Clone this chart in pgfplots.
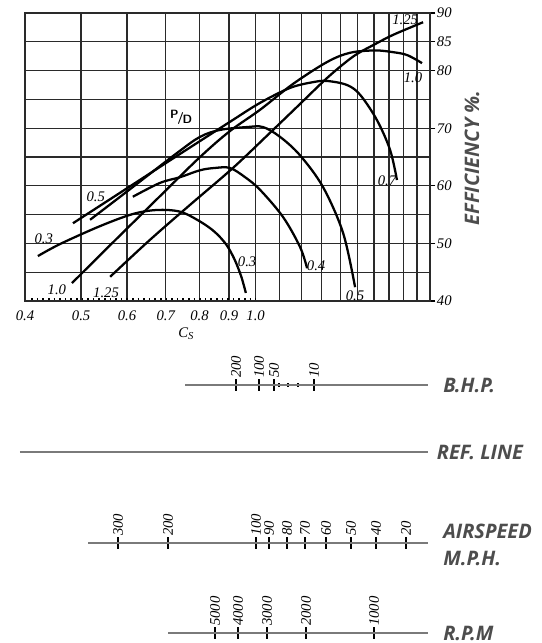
\documentclass[border=0pt]{standalone}
\usepackage{fontspec}
\setmainfont{Liberation Serif}
\newfontfamily\capfont{Open Sans}
\usepackage{pgfplots}
\pgfplotsset{compat=1.18}
\definecolor{capgray}{HTML}{4D4D4D}
\definecolor{gridc}{HTML}{2A2A2A}
\definecolor{scalec}{HTML}{7A7A7A}

% 1px of the reference = 0.75pt
\newcommand\lab{\itshape\fontsize{11}{12}\selectfont}
\newcommand\captxt{\capfont\bfseries\itshape\fontsize{15}{15}\selectfont}

\pgfplotsset{
  nomo/.style={
    anchor=north west, scale only axis, height=1pt,
    ymin=0, ymax=1, hide y axis, axis x line*=top,
    axis line style={scalec, line width=1pt},
    tick align=center, major tick length=8.5pt, minor tick length=3pt,
    every tick/.style={black, line width=1pt},
    xticklabel style={rotate=90, anchor=west, font=\lab, inner sep=1pt},
  },
  pd/.style={black, line width=1.7pt, smooth, tension=0.55},
}

\begin{document}
\begin{tikzpicture}
\useasboundingbox (0,0) rectangle (406.5pt,-482.25pt);

% efficiency chart
\begin{axis}[
  at={(18.75pt,-225.75pt)}, anchor=south west,
  scale only axis, width=303.75pt, height=216pt,
  xmode=log, xmin=0.4, xmax=2.0, ymin=40, ymax=90,
  clip=false,
  axis line style={gridc, line width=1pt},
  grid=major, major grid style={gridc, line width=1pt},
  xtick={0.4,0.5,0.6,0.7,0.8,0.9,1.0,1.1,1.2,1.3,1.4,1.5,1.6,1.7,1.8,1.9,2.0},
  xticklabels={0.4,0.5,0.6,0.7,0.8,0.9,1.0,,,,,,,,,,},
  xtick style={draw=none},
  ytick={40,50,60,70,80,85,90},
  yticklabels={40,50,60,70,80,85,90},
  ytick pos=right, yticklabel pos=right,
  tick align=outside, major tick length=4pt,
  ytick style={black, line width=0.8pt},
  extra y ticks={45,55,65,75},
  extra y tick labels={},
  extra y tick style={major tick length=0pt, grid=major},
  ticklabel style={font=\lab},
  yticklabel style={inner sep=1pt},
  /pgf/number format/assume math mode=true,
]

% P/D = 0.3
\addplot[pd] coordinates {
  (0.421,47.8) (0.460,49.9) (0.539,53.0) (0.614,55.1) (0.676,55.8)
  (0.741,55.5) (0.802,53.8) (0.850,52.0) (0.890,49.8) (0.920,47.2)
  (0.945,44.2) (0.962,41.4)
};
% P/D = 0.4
\addplot[pd] coordinates {
  (0.614,58.1) (0.684,60.5) (0.741,61.5) (0.802,62.7) (0.851,63.1)
  (0.903,63.1) (0.959,61.5) (1.018,59.3) (1.115,54.6) (1.193,49.4) (1.227,45.7)
};
% P/D = 0.5
\addplot[pd] coordinates {
  (0.518,54.1) (0.607,59.4) (0.732,65.7) (0.802,68.5) (0.868,69.7)
  (0.967,70.2) (1.030,70.2) (1.102,68.5) (1.193,65.3) (1.307,59.8)
  (1.416,51.8) (1.485,42.4)
};
% P/D = 0.7
\addplot[pd] coordinates {
  (0.484,53.5) (0.607,59.9) (0.732,65.2) (0.903,71.1) (1.018,74.4)
  (1.147,77.0) (1.257,78.0) (1.329,78.2) (1.438,77.5) (1.515,75.8)
  (1.620,71.4) (1.707,66.2) (1.754,61.0)
};
% P/D = 1.0
\addplot[pd] coordinates {
  (0.482,43.1) (0.577,50.9) (0.684,58.2) (0.802,65.0) (0.903,69.5)
  (1.018,73.2) (1.161,77.7) (1.329,81.5) (1.456,83.1) (1.608,83.5)
  (1.727,83.2) (1.826,82.7) (1.938,81.3)
};
% P/D = 1.25
\addplot[pd] coordinates {
  (0.561,44.2) (0.657,50.6) (0.771,56.7) (0.914,63.1) (1.059,69.2)
  (1.193,74.2) (1.318,78.4) (1.416,81.1) (1.497,82.9) (1.608,84.6)
  (1.727,86.2) (1.946,88.4)
};
% dotted strip along the bottom
\addplot[black, line width=1.3pt, dash pattern=on 1.2pt off 3pt] coordinates {
  (0.41,40.35) (1.0,40.35)
};

\node[font=\lab] at (axis cs:0.431,50.8) {0.3};
\node[font=\lab] at (axis cs:0.530,58.1) {0.5};
\node[font=\lab] at (axis cs:0.454,41.9) {1.0};
\node[font=\lab] at (axis cs:0.552,41.5) {1.25};
\node[font=\lab] at (axis cs:0.967,46.8) {0.3};
\node[font=\lab] at (axis cs:1.272,46.1) {0.4};
\node[font=\lab] at (axis cs:1.485,40.9) {0.5};
\node[font=\lab] at (axis cs:1.686,60.8) {0.7};
\node[font=\lab] at (axis cs:1.869,78.7) {1.0};
\node[font=\lab] at (axis cs:1.812,88.8) {1.25};
\node[font=\sffamily\bfseries\fontsize{9}{9}\selectfont, inner sep=0pt] at (axis cs:0.744,71.9)
  {\raisebox{2pt}{P}\kern-1pt/\kern-1pt\raisebox{-2pt}{D}};
\end{axis}

\node[font=\lab] at (139.5pt,-250.5pt) {C\raisebox{-1.5pt}{\fontsize{8}{8}\selectfont S}};
\node[font=\captxt, text=capgray, rotate=90] at (354pt,-118.5pt) {EFFICIENCY \%.};

% nomogram scales
\begin{axis}[nomo, at={(138.75pt,-288.75pt)}, width=182.25pt,
  xmin=185, xmax=428,
  xtick={236,259,274,314}, xticklabels={200,100,50,10},
  minor xtick={279,288,298}]
\end{axis}
\begin{axis}[nomo, at={(15pt,-339pt)}, width=306pt,
  xmin=0, xmax=1, xtick=\empty]
\end{axis}
\begin{axis}[nomo, at={(66pt,-407.25pt)}, width=255pt,
  xmin=88, xmax=428,
  xtick={118,168,256,269,287,305,326,351,376,406},
  xticklabels={300,200,100,90,80,70,60,50,40,20}]
\end{axis}
\begin{axis}[nomo, at={(126pt,-474.75pt)}, width=195pt,
  xmin=168, xmax=428,
  xtick={215,238,267,306,374},
  xticklabels={5000,4000,3000,2000,1000}]
\end{axis}

\node[font=\captxt, text=capgray, anchor=west, inner sep=0pt] at (332.25pt,-288.75pt) {B.H.P.};
\node[font=\captxt, text=capgray, anchor=west, inner sep=0pt] at (327.5pt,-339pt) {REF. LINE};
\node[font=\captxt, text=capgray, anchor=west, inner sep=0pt] at (332.25pt,-398.25pt) {AIRSPEED};
\node[font=\captxt, text=capgray, anchor=west, inner sep=0pt] at (332.25pt,-418.5pt) {M.P.H.};
\node[font=\captxt, text=capgray, anchor=west, inner sep=0pt] at (332.25pt,-474.75pt) {R.P.M};
\end{tikzpicture}
\end{document}
